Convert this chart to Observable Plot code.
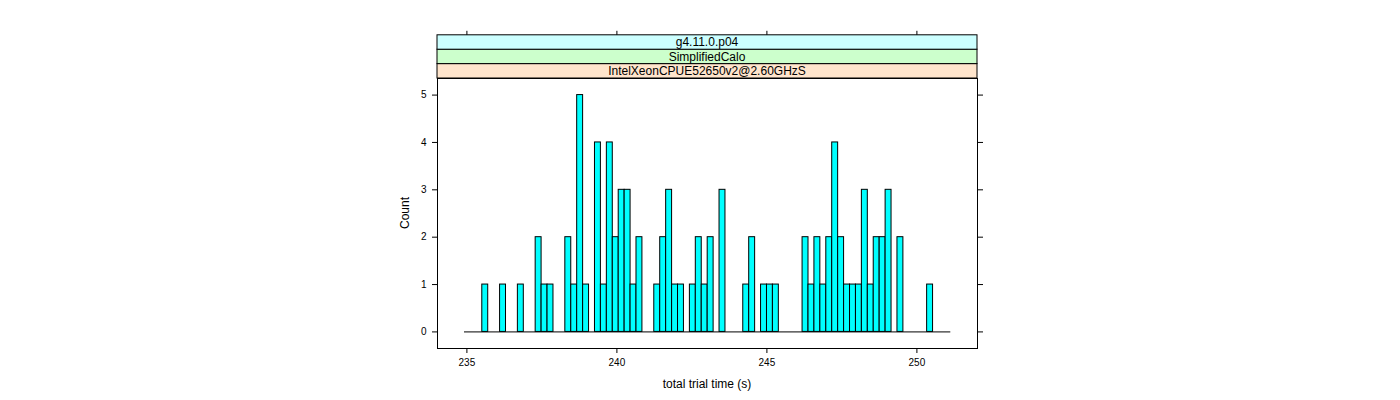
<!DOCTYPE html>
<html>
<head>
<meta charset="utf-8">
<script src="https://cdn.jsdelivr.net/npm/d3@7"></script>
<script src="https://cdn.jsdelivr.net/npm/@observablehq/plot@0.6"></script>
<style>
  html, body { margin: 0; padding: 0; background: white; }
</style>
</head>
<body>
<div id="chart"></div>
<script>
// ---- data ----
const stripLabels = ["IntelXeonCPUE52650v2@2.60GHzS", "SimplifiedCalo", "g4.11.0.p04"];
const stripColors = ["#FFE5CC", "#CCFFCC", "#CCFFFF"];
const breakRange = [234.92, 251.13];
const binWidth = 0.1977;
const binStart = [235.513, 236.106, 236.699, 237.292, 237.490, 237.688, 238.281, 238.479, 238.676, 238.874,
  239.269, 239.467, 239.665, 239.863, 240.060, 240.258, 240.456, 240.653, 241.246, 241.444,
  241.642, 241.840, 242.037, 242.433, 242.630, 242.828, 243.026, 243.421, 244.212, 244.410,
  244.805, 245.003, 245.200, 246.189, 246.387, 246.584, 246.782, 246.980, 247.177, 247.375,
  247.573, 247.771, 247.968, 248.166, 248.364, 248.561, 248.759, 248.957, 249.352, 250.341];
const counts = [1, 1, 1, 2, 1, 1, 2, 1, 5, 1,
  4, 1, 4, 2, 3, 3, 1, 2, 1, 2,
  3, 1, 1, 1, 2, 1, 2, 3, 1, 2,
  1, 1, 1, 2, 1, 2, 1, 2, 4, 2,
  1, 1, 1, 3, 1, 2, 2, 3, 2, 1];
const xTicks = [235, 240, 245, 250];
const yTicks = [0, 1, 2, 3, 4, 5];
const xTitle = "total trial time (s)";
const yTitle = "Count";

const bins = binStart.map((s, i) => ({x1: s, x2: s + binWidth, count: counts[i]}));

const W = 1400, H = 400;
const mL = 437, mR = 423, mT = 78, mB = 52;
const stripH = 14.4;

const plot = Plot.plot({
  width: W,
  height: H,
  marginLeft: mL,
  marginRight: mR,
  marginTop: mT,
  marginBottom: mB,
  style: {fontFamily: "'Liberation Sans', Arial, Helvetica, sans-serif", fontSize: "10px", background: "white", color: "black"},
  x: {domain: [234.02, 252.02], label: null},
  y: {domain: [-0.35, 5.35], label: null},
  marks: [
    Plot.ruleY([0], {x1: breakRange[0], x2: breakRange[1], stroke: "black", strokeWidth: 1}),
    Plot.rectY(bins, {x1: "x1", x2: "x2", y1: 0, y2: "count", fill: "#00FFFF", stroke: "black", strokeWidth: 1, inset: 0}),
    Plot.frame({stroke: "black", strokeWidth: 1}),
    Plot.axisX({anchor: "bottom", ticks: xTicks, tickSize: 5, tickPadding: 5, tickFormat: d3.format("d"), label: null, fontSize: 10}),
    Plot.axisX({anchor: "top", ticks: xTicks, tickSize: 5, tickFormat: () => "", label: null, dy: -3 * stripH}),
    Plot.axisY({anchor: "left", ticks: yTicks, tickSize: 5, tickPadding: 6, tickFormat: d3.format("d"), label: null, fontSize: 10}),
    Plot.axisY({anchor: "right", ticks: yTicks, tickSize: 5, tickFormat: () => "", label: null})
  ]
});

const svg = d3.select(plot);
const xr = plot.scale("x").range;
const left = Math.min(...xr), right = Math.max(...xr);

// strips (bottom one first)
stripLabels.forEach((lab, i) => {
  const y0 = mT - (i + 1) * stripH;
  svg.append("rect")
    .attr("x", left).attr("y", y0)
    .attr("width", right - left).attr("height", stripH)
    .attr("fill", stripColors[i]).attr("stroke", "black").attr("stroke-width", 1);
  svg.append("text")
    .attr("x", (left + right) / 2).attr("y", y0 + stripH / 2)
    .attr("text-anchor", "middle").attr("dy", "0.36em")
    .attr("font-size", 12)
    .text(lab);
});

// axis titles
svg.append("text")
  .attr("x", (left + right) / 2).attr("y", 384)
  .attr("text-anchor", "middle").attr("dy", "0.36em")
  .attr("font-size", 12)
  .text(xTitle);
svg.append("text")
  .attr("transform", `translate(405, ${(mT + (H - mB)) / 2}) rotate(-90)`)
  .attr("text-anchor", "middle").attr("dy", "0.36em")
  .attr("font-size", 12)
  .text(yTitle);

document.getElementById("chart").appendChild(plot);
</script>
</body>
</html>
